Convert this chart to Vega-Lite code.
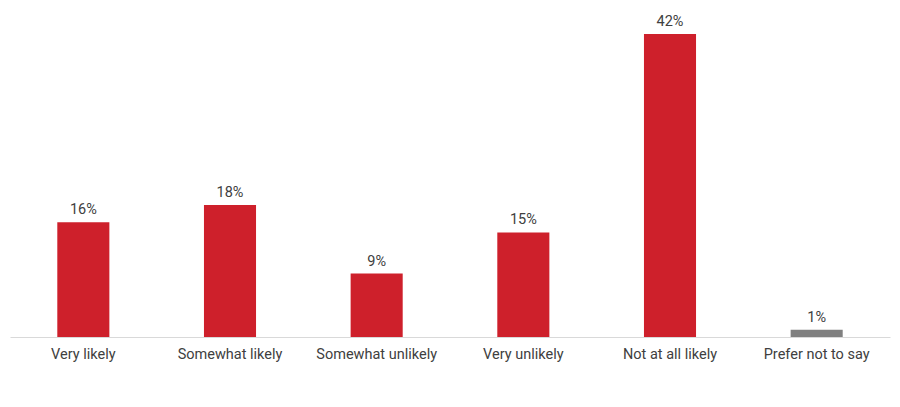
{
  "$schema": "https://vega.github.io/schema/vega-lite/v6.json",
  "autosize": "none",
  "width": 880,
  "height": 303,
  "padding": {"left": 10, "top": 34, "right": 10, "bottom": 70},
  "background": "white",
  "data": {
    "values": [
      {"answer": "Very likely", "pct": 15.9, "label": "16%", "group": "main"},
      {"answer": "Somewhat likely", "pct": 18.3, "label": "18%", "group": "main"},
      {"answer": "Somewhat unlikely", "pct": 8.8, "label": "9%", "group": "main"},
      {"answer": "Very unlikely", "pct": 14.5, "label": "15%", "group": "main"},
      {"answer": "Not at all likely", "pct": 42, "label": "42%", "group": "main"},
      {"answer": "Prefer not to say", "pct": 1, "label": "1%", "group": "other"}
    ]
  },
  "encoding": {
    "x": {
      "field": "answer",
      "type": "nominal",
      "sort": null,
      "title": null,
      "scale": {"paddingInner": 0.645, "paddingOuter": 0.3225},
      "axis": {
        "labelAngle": 0,
        "labelFont": "Roboto",
        "labelFontSize": 14.5,
        "labelColor": "#404040",
        "labelPadding": 10,
        "ticks": false,
        "domainColor": "#d9d9d9",
        "domainWidth": 1
      }
    },
    "y": {
      "field": "pct",
      "type": "quantitative",
      "scale": {"domain": [0, 42], "nice": false},
      "axis": null
    }
  },
  "layer": [
    {
      "mark": {"type": "bar"},
      "encoding": {
        "color": {
          "field": "group",
          "type": "nominal",
          "scale": {"domain": ["main", "other"], "range": ["#CE202B", "#808080"]},
          "legend": null
        }
      }
    },
    {
      "mark": {"type": "text", "baseline": "bottom", "dy": -5, "font": "Roboto", "fontSize": 14.5, "color": "#404040"},
      "encoding": {
        "text": {"field": "label", "type": "nominal"}
      }
    }
  ],
  "config": {"view": {"stroke": null}}
}
